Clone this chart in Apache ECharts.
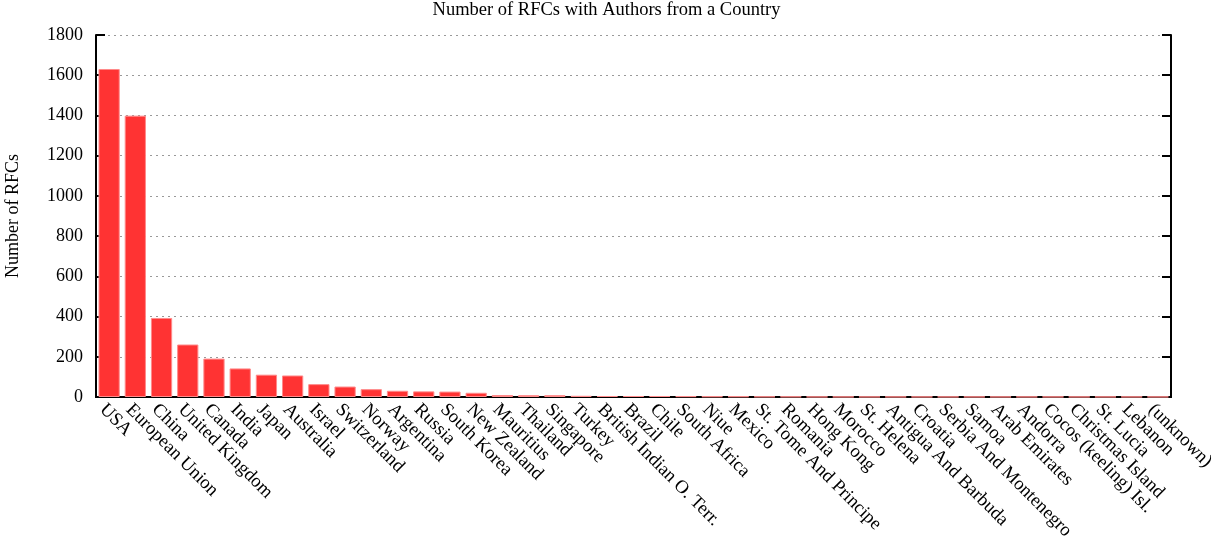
<!DOCTYPE html>
<html>
<head>
<meta charset="utf-8">
<script src="https://cdn.jsdelivr.net/npm/echarts@6/dist/echarts.min.js"></script>
<style>html,body{margin:0;padding:0;background:#fff}#c{width:1213px;height:540px}</style>
</head>
<body>
<div id="c"></div>
<script>
const categories = ["USA","European Union","China","United Kingdom","Canada","India","Japan","Australia","Israel","Switzerland","Norway","Argentina","Russia","South Korea","New Zealand","Mauritius","Thailand","Singapore","Turkey","British Indian O. Terr.","Brazil","Chile","South Africa","Niue","Mexico","St. Tome And Principe","Romania","Hong Kong","Morocco","St. Helena","Antigua And Barbuda","Croatia","Serbia And Montenegro","Samoa","Arab Emirates","Andorra","Cocos (keeling) Isl.","Christmas Island","St. Lucia","Lebanon","(unknown)"];
const rfcCounts = [1631,1399,393,261,191,142,111,107,64,52,39,31,28,27,21,10,9,9,6,5,5,5,4,3,3,2,2,1,1,1,1,1,1,1,1,1,1,1,1,1,1];
const yTicks = {min:0, max:1800, interval:200};
const titleText = "Number of RFCs with Authors from a Country";
const yName = "Number of RFCs";

const FONT = "'Liberation Serif', 'DejaVu Serif', serif";
const chart = echarts.init(document.getElementById('c'));
chart.setOption({
  animation:false,
  backgroundColor:'#fff',
  textStyle:{fontFamily:FONT},
  title:{text:titleText,left:'center',top:-4,textStyle:{fontFamily:FONT,fontSize:18.5,fontWeight:'normal',color:'#000'}},
  grid:{left:96,right:42,top:35,bottom:143,outerBoundsMode:'none',containLabel:false},
  xAxis:[{
    type:'category',data:categories,position:'bottom',
    axisLine:{lineStyle:{color:'#000',width:2}},
    axisTick:{inside:true,length:9,lineStyle:{color:'#000',width:2}},
    axisLabel:{rotate:-45,interval:0,margin:3,verticalAlign:'top',fontFamily:FONT,fontSize:18.6,color:'#000'}
  },{
    type:'category',data:categories,position:'top',
    axisLine:{lineStyle:{color:'#000',width:2}},
    axisTick:{inside:true,length:9,lineStyle:{color:'#000',width:2}},
    axisLabel:{show:false}
  }],
  yAxis:[{
    type:'value',min:yTicks.min,max:yTicks.max,interval:yTicks.interval,position:'left',
    name:yName,nameLocation:'middle',nameRotate:90,nameGap:74,
    nameTextStyle:{fontFamily:FONT,fontSize:18,color:'#000'},
    axisLine:{show:true,lineStyle:{color:'#000',width:2}},
    axisTick:{show:true,inside:true,length:9,lineStyle:{color:'#000',width:2}},
    axisLabel:{margin:13,fontFamily:FONT,fontSize:18,color:'#000',formatter:v=>String(v)},
    splitLine:{show:true,lineStyle:{color:'#999',width:1,type:[2,4]}}
  },{
    type:'value',min:yTicks.min,max:yTicks.max,interval:yTicks.interval,position:'right',
    axisLine:{show:true,lineStyle:{color:'#000',width:2}},
    axisTick:{show:true,inside:true,length:9,lineStyle:{color:'#000',width:2}},
    axisLabel:{show:false},
    splitLine:{show:false}
  }],
  series:[{
    type:'bar',data:rfcCounts,xAxisIndex:0,yAxisIndex:0,
    barCategoryGap:'19%',
    itemStyle:{color:'#ff3333',borderColor:'#ff8a8a',borderWidth:1}
  }]
});
</script>
</body>
</html>
